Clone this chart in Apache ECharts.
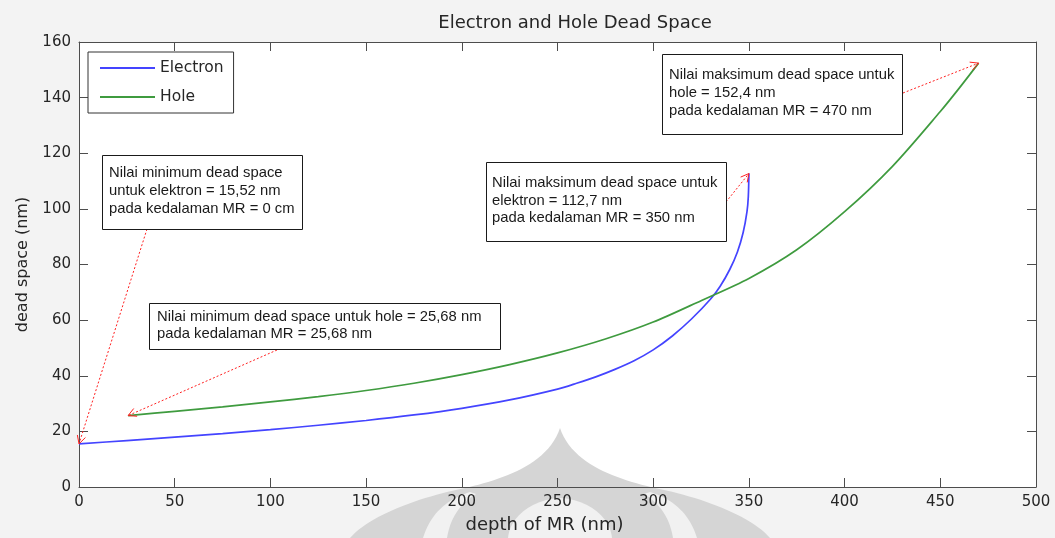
<!DOCTYPE html>
<html>
<head>
<meta charset="utf-8">
<script src="https://cdn.jsdelivr.net/npm/echarts@6/dist/echarts.min.js"></script>
<style>
  html, body { margin: 0; padding: 0; background: #f3f3f3; }
  #chart { width: 1055px; height: 538px; }
</style>
</head>
<body>
<div id="chart"></div>
<script>
// Dead space (nm) versus depth of the multiplication region (nm)
const depthElectron = [0, 25, 50, 75, 100, 125, 150, 175, 200, 225, 250, 260, 270, 280, 290, 300, 310, 320, 330, 335, 340, 344, 347, 349, 349.7, 350];
const deadElectron  = [15.52, 16.7, 17.9, 19.2, 20.6, 22.2, 23.9, 25.9, 28.3, 31.3, 35.2, 37.3, 39.6, 42.3, 45.4, 49.3, 54.3, 60.4, 67.6, 72.2, 78.2, 84.5, 91.5, 99.0, 104.5, 112.7];

const depthHole = [25.68, 50, 75, 100, 125, 150, 175, 200, 225, 250, 275, 300, 325, 350, 375, 400, 425, 450, 460, 470];
const deadHole  = [25.68, 27.2, 28.8, 30.6, 32.5, 34.7, 37.3, 40.4, 44.0, 48.2, 53.2, 59.3, 67.0, 75.0, 85.3, 99.0, 115.3, 135.0, 143.5, 152.4];

const seriesNames = ['Electron', 'Hole'];
const chartTitle = 'Electron and Hole Dead Space';
const xName = 'depth of MR (nm)';
const yName = 'dead space (nm)';

const pairs = (xs, ys) => xs.map((x, i) => [x, ys[i]]);
const fmt = v => String(v).replace('.', ',');

const axisColor = '#4d4d4d';
const textColor = '#262626';
const tickFont = { color: textColor, fontFamily: 'DejaVu Sans', fontSize: 15 };

function valueAxis(pos, min, max, interval, withLabels, extra) {
  return Object.assign({
    type: 'value', position: pos, min: min, max: max, interval: interval, z: 3,
    axisLine: { show: true, onZero: false, lineStyle: { color: axisColor, width: 1 } },
    axisTick: { show: true, inside: true, length: 9, lineStyle: { color: axisColor, width: 1 } },
    axisLabel: Object.assign({ show: withLabels, margin: 8 }, tickFont),
    splitLine: { show: false }
  }, extra || {});
}

const chart = echarts.init(document.getElementById('chart'), null, { renderer: 'canvas' });

chart.setOption({
  backgroundColor: '#f3f3f3',
  animation: false,
  title: {
    text: chartTitle, left: 570, top: 9, textAlign: 'center',
    textStyle: { color: textColor, fontFamily: 'DejaVu Sans', fontSize: 18, fontWeight: 'normal' }
  },
  grid: {
    left: 79, right: 19, top: 42, bottom: 51, outerBoundsMode: 'none',
    show: true, backgroundColor: '#ffffff', borderWidth: 0
  },
  legend: {
    data: seriesNames, orient: 'vertical', left: 88, top: 52,
    padding: [8, 10, 8, 11], itemGap: 13, itemWidth: 55, itemHeight: 14,
    backgroundColor: '#ffffff', borderColor: '#333333', borderWidth: 1, borderRadius: 0,
    itemStyle: { opacity: 0 },
    textStyle: { color: textColor, fontFamily: 'DejaVu Sans', fontSize: 15.5 }
  },
  xAxis: [
    valueAxis('bottom', 0, 500, 50, true, {
      name: xName, nameLocation: 'middle', nameGap: 29,
      nameTextStyle: { color: textColor, fontFamily: 'DejaVu Sans', fontSize: 18, padding: [0, 26, 0, 0] }
    }),
    valueAxis('top', 0, 500, 50, false)
  ],
  yAxis: [
    valueAxis('left', 0, 160, 20, true, {
      name: yName, nameLocation: 'middle', nameGap: 48,
      nameTextStyle: { color: textColor, fontFamily: 'DejaVu Sans', fontSize: 16 }
    }),
    valueAxis('right', 0, 160, 20, false)
  ],
  series: [
    {
      name: seriesNames[0], type: 'line', data: pairs(depthElectron, deadElectron),
      symbol: 'none', smooth: 0.3,
      lineStyle: { color: '#4444ff', width: 1.7 }, itemStyle: { color: '#4444ff' }
    },
    {
      name: seriesNames[1], type: 'line', data: pairs(depthHole, deadHole),
      symbol: 'none', smooth: 0.3,
      lineStyle: { color: '#3f9b3f', width: 1.7 }, itemStyle: { color: '#3f9b3f' }
    }
  ]
});

// Annotation call-outs: boxed notes with dotted red arrows to the extreme points
const toPx = p => chart.convertToPixel({ gridIndex: 0 }, p);
const nE = depthElectron.length - 1;
const nH = depthHole.length - 1;

const notes = [
  {
    box: [102, 155, 200, 74], textAt: [109, 164], lh: 18,
    lines: ['Nilai minimum dead space',
            'untuk elektron = ' + fmt(deadElectron[0]) + ' nm',
            'pada kedalaman MR = ' + fmt(depthElectron[0]) + ' cm'],
    tail: [147, 229], head: [depthElectron[0], deadElectron[0]]
  },
  {
    box: [149, 303, 351, 46], textAt: [157, 308], lh: 17.5,
    lines: ['Nilai minimum dead space untuk hole = ' + fmt(deadHole[0]) + ' nm',
            'pada kedalaman MR = ' + fmt(depthHole[0]) + ' nm'],
    tail: [277, 350], head: [depthHole[0], deadHole[0]]
  },
  {
    box: [486, 162, 240, 79], textAt: [492, 174.5], lh: 17.5,
    lines: ['Nilai maksimum dead space untuk',
            'elektron = ' + fmt(deadElectron[nE]) + ' nm',
            'pada kedalaman MR = ' + fmt(depthElectron[nE]) + ' nm'],
    tail: [726, 202], head: [depthElectron[nE], deadElectron[nE]]
  },
  {
    box: [662, 54, 240, 80], textAt: [669, 66], lh: 18,
    lines: ['Nilai maksimum dead space untuk',
            'hole = ' + fmt(deadHole[nH]) + ' nm',
            'pada kedalaman MR = ' + fmt(depthHole[nH]) + ' nm'],
    tail: [903, 93], head: [depthHole[nH], deadHole[nH]]
  }
];

// cubic bezier sampled into polygon points
function bez(p0, p1, p2, p3, n) {
  const out = [];
  for (let i = 0; i <= n; i++) {
    const t = i / n, u = 1 - t;
    out.push([
      u*u*u*p0[0] + 3*u*u*t*p1[0] + 3*u*t*t*p2[0] + t*t*t*p3[0],
      u*u*u*p0[1] + 3*u*u*t*p1[1] + 3*u*t*t*p2[1] + t*t*t*p3[1]
    ]);
  }
  return out;
}
function shape(segs) {
  let pts = [];
  segs.forEach(s => { pts = pts.concat(s.length === 4 ? bez(s[0], s[1], s[2], s[3], 24) : s); });
  return pts;
}

const graphics = [];

// faint emblem in the lower middle of the figure
const emblem = shape([
  [[560, 428], [548, 465], [500, 480], [465, 488]],
  [[465, 488], [420, 497], [370, 515], [350, 538]],
  [[770, 538]],
  [[770, 538], [750, 515], [700, 497], [655, 488]],
  [[655, 488], [620, 480], [572, 465], [560, 428]]
]);
const bandL = shape([
  [[423, 538], [430, 515], [445, 500], [470, 492]],
  [[476, 494], [458, 505], [450, 520], [447, 538]]
]);
const bandR = shape([
  [[697, 538], [690, 515], [675, 500], [650, 492]],
  [[644, 494], [662, 505], [670, 520], [673, 538]]
]);
const archC = shape([
  [[508, 538], [510, 515], [535, 499], [560, 498]],
  [[560, 498], [585, 499], [610, 515], [612, 538]]
]);
graphics.push({ type: 'polygon', z: 1, silent: true, shape: { points: emblem }, style: { fill: '#d5d5d5' } });
[bandL, bandR, archC].forEach(p => graphics.push({
  type: 'polygon', z: 1, silent: true, shape: { points: p }, style: { fill: '#f1f1f1' }
}));

notes.forEach(n => {
  const [hx, hy] = toPx(n.head);
  const [tx, ty] = n.tail;
  const a = Math.atan2(hy - ty, hx - tx);
  const L = 9, th = 28 * Math.PI / 180;
  const arm1 = [hx - L * Math.cos(a - th), hy - L * Math.sin(a - th)];
  const arm2 = [hx - L * Math.cos(a + th), hy - L * Math.sin(a + th)];
  graphics.push({
    type: 'line', z: 9, silent: true,
    shape: { x1: tx, y1: ty, x2: hx, y2: hy },
    style: { stroke: '#ff2020', lineWidth: 1, lineDash: [2, 2] }
  });
  graphics.push({
    type: 'polyline', z: 9, silent: true,
    shape: { points: [arm1, [hx, hy], arm2] },
    style: { stroke: '#ff2020', lineWidth: 1, fill: null }
  });
  graphics.push({
    type: 'rect', z: 10, silent: true,
    shape: { x: n.box[0] + 0.5, y: n.box[1] + 0.5, width: n.box[2], height: n.box[3] },
    style: { fill: '#ffffff', stroke: '#1a1a1a', lineWidth: 1 }
  });
  graphics.push({
    type: 'text', z: 11, silent: true, x: n.textAt[0], y: n.textAt[1],
    style: {
      text: n.lines.join('\n'), fill: '#1a1a1a',
      fontFamily: 'Liberation Sans', fontSize: 14.8, lineHeight: n.lh,
      verticalAlign: 'top', align: 'left'
    }
  });
});

chart.setOption({ graphic: graphics });
</script>
</body>
</html>
